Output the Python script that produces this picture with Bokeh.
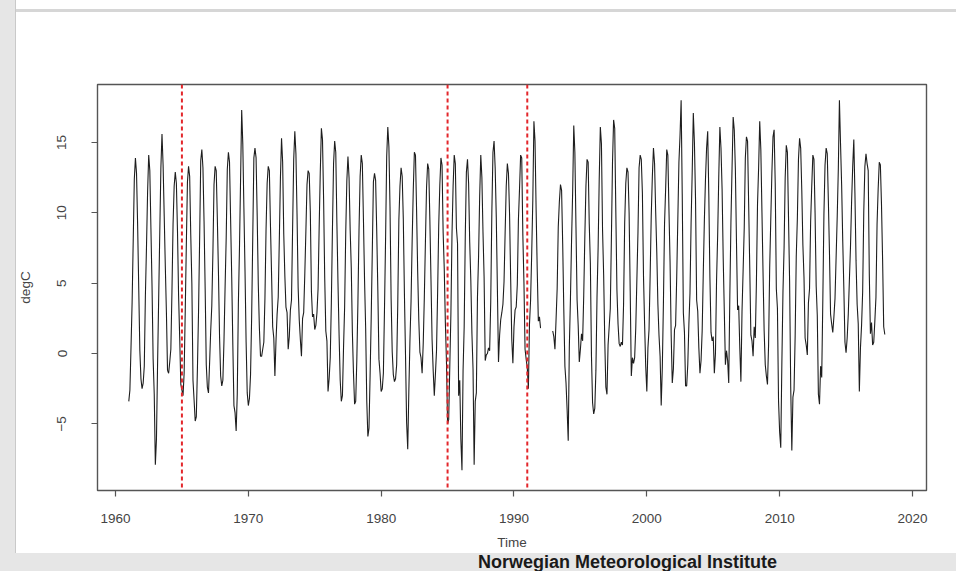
import numpy as np
from bokeh.plotting import figure
from bokeh.layouts import column
from bokeh.models import Range1d, FixedTicker, Span, Div
from bokeh.embed import file_html
from bokeh.resources import INLINE

nan = float("nan")

# ---------------- data (monthly mean temperature, degC) ----------------
start_year = 1961
temps_1961_1970 = [
    [-3.4, -2.6, 0.4, 3.6, 8.0, 12.4, 13.9, 12.8, 9.1, 4.6, 0.2, -1.8],
    [-2.5, -2.1, -0.9, 4.1, 7.6, 11.5, 14.1, 13.0, 8.9, 4.8, -0.4, -2.9],
    [-7.9, -6.1, -0.8, 3.9, 8.6, 13.2, 15.6, 13.4, 9.8, 6.2, 2.9, -1.2],
    [-1.4, -0.6, 0.3, 4.4, 9.2, 11.9, 12.9, 12.1, 8.7, 4.1, 1.1, -2.2],
    [-2.6, -3.0, -1.4, 3.0, 7.8, 12.2, 13.3, 12.6, 8.4, 4.9, -1.9, -3.3],
    [-4.8, -4.5, -1.1, 2.9, 8.1, 13.7, 14.5, 13.2, 9.4, 4.6, -0.8, -2.4],
    [-2.8, -0.7, 1.6, 3.4, 7.2, 12.0, 13.3, 13.0, 9.6, 5.8, 1.2, -1.6],
    [-2.3, -1.9, 0.9, 4.7, 8.2, 13.1, 14.3, 13.6, 9.5, 5.4, 0.6, -3.7],
    [-4.2, -5.5, -2.9, 3.5, 7.5, 12.4, 17.3, 14.9, 10.3, 5.9, 0.8, -2.8],
    [-3.7, -3.2, -1.5, 2.6, 8.3, 13.9, 14.6, 13.9, 9.8, 4.9, 1.8, -0.2],
]
temps_1971_1980 = [
    [-0.2, 0.3, 0.8, 3.9, 8.8, 12.1, 13.3, 13.0, 9.1, 5.6, 1.9, 1.1],
    [-1.6, 0.9, 2.8, 4.0, 8.1, 12.5, 15.3, 13.6, 8.5, 5.5, 3.3, 2.9],
    [0.3, 1.2, 3.1, 3.8, 8.9, 13.8, 15.8, 14.2, 9.9, 4.7, 2.4, 1.0],
    [-0.2, 2.5, 2.9, 5.6, 8.7, 12.0, 13.0, 12.8, 10.1, 4.4, 2.6, 2.8],
    [1.7, 2.0, 2.9, 4.6, 9.0, 12.9, 16.0, 15.2, 11.0, 5.4, 1.6, 0.9],
    [-2.7, -1.8, -0.3, 3.6, 8.9, 13.5, 15.1, 14.3, 9.3, 5.0, 1.3, -1.9],
    [-3.4, -3.0, 0.4, 3.3, 8.6, 12.3, 14.0, 12.5, 8.8, 6.1, 1.5, -1.4],
    [-3.6, -3.4, -0.5, 3.6, 8.8, 12.6, 14.1, 13.5, 9.5, 5.2, 1.8, -3.4],
    [-5.9, -5.3, -1.6, 2.5, 7.3, 12.2, 12.8, 12.3, 8.7, 4.5, -0.4, -1.4],
    [-2.7, -2.5, -1.4, 3.1, 8.2, 14.0, 16.1, 14.7, 10.4, 3.9, 0.1, -1.5],
]
temps_1981_1990 = [
    [-2.0, -1.8, -0.8, 3.5, 9.5, 11.9, 13.2, 12.6, 9.6, 4.3, -0.1, -4.9],
    [-6.8, -2.7, 0.9, 3.7, 8.0, 11.6, 14.3, 14.1, 10.2, 5.8, 2.4, 0.1],
    [-0.3, -1.4, 0.7, 4.0, 8.0, 11.8, 13.5, 13.1, 9.5, 5.3, 1.0, -1.2],
    [-3.0, -1.5, 0.2, 4.3, 9.1, 12.0, 13.9, 13.4, 8.6, 6.0, 2.2, -0.6],
    [-5.0, -4.7, -0.9, 2.8, 8.5, 11.9, 14.1, 13.5, 8.9, 7.8, -3.0, -1.9],
    [-6.1, -8.3, -1.2, 1.9, 8.4, 12.9, 13.8, 12.1, 7.9, 5.2, 1.4, -1.1],
    [-7.9, -3.4, -2.8, 4.0, 6.9, 11.2, 14.1, 12.5, 8.6, 5.4, -0.5, -0.1],
    [0.0, 0.4, 0.2, 3.7, 10.1, 14.3, 15.1, 13.2, 9.7, 4.6, -0.6, 1.3],
    [2.4, 2.9, 3.5, 5.1, 8.6, 11.9, 13.5, 12.8, 9.9, 5.3, 1.0, -0.7],
    [1.9, 3.1, 3.3, 4.9, 9.5, 11.7, 14.1, 13.9, 8.4, 5.0, 0.3, -0.4],
]
temps_1991_2000 = [
    [-1.0, -2.5, 2.1, 3.8, 7.1, 10.9, 16.5, 15.1, 10.2, 5.9, 2.3, 2.6],
    [1.8, nan, nan, nan, nan, nan, nan, nan, nan, nan, nan, 1.6],
    [1.2, 0.3, 2.4, 4.6, 9.0, 10.8, 12.0, 11.6, 7.8, 3.1, -0.9, -2.1],
    [-4.0, -6.2, 0.5, 3.9, 8.0, 11.5, 16.2, 14.3, 9.0, 3.8, 2.0, -0.6],
    [0.3, 1.4, 0.9, 4.1, 8.3, 11.9, 13.8, 13.6, 9.2, 6.4, -0.2, -3.5],
    [-4.3, -3.9, -1.2, 4.0, 7.5, 12.4, 16.1, 14.9, 8.8, 5.6, 0.9, -2.4],
    [-2.9, 0.6, 1.9, 3.2, 8.2, 13.6, 16.6, 16.0, 10.1, 4.5, 2.1, 0.7],
    [0.5, 0.8, 0.6, 3.5, 9.3, 12.1, 13.2, 12.9, 10.0, 4.4, -1.6, -0.3],
    [-0.7, -0.3, 1.8, 5.2, 8.6, 13.2, 14.1, 13.8, 11.4, 5.5, 2.1, -0.9],
    [-2.7, 0.4, 1.7, 5.5, 9.8, 12.6, 14.6, 13.5, 10.1, 7.2, 3.5, 1.3],
]
temps_2001_2010 = [
    [-0.2, -3.7, -1.0, 3.6, 9.2, 11.7, 14.5, 14.1, 10.2, 6.5, 1.3, -2.1],
    [-1.1, 1.7, 2.0, 5.4, 9.5, 13.6, 15.5, 18.0, 11.3, 2.9, 1.5, -2.3],
    [-2.3, -0.8, 2.1, 4.3, 9.3, 12.9, 17.1, 15.0, 11.0, 3.8, 3.0, 0.4],
    [-1.4, -0.5, 1.6, 5.7, 9.5, 12.4, 14.6, 15.8, 11.3, 5.4, 1.5, 0.9],
    [1.2, -1.4, 0.0, 5.2, 8.4, 12.6, 16.1, 14.6, 11.7, 6.8, 3.0, -0.8],
    [0.2, -0.5, -2.1, 4.1, 9.4, 13.2, 16.8, 15.9, 13.1, 7.9, 3.1, 3.4],
    [0.4, -2.0, 3.0, 5.9, 8.9, 13.9, 15.4, 15.1, 10.6, 6.1, 1.3, 0.9],
    [-0.2, 1.9, 1.1, 5.0, 10.6, 13.2, 16.5, 14.5, 10.1, 5.7, 1.6, -0.8],
    [-1.6, -2.2, 0.6, 6.1, 9.6, 12.9, 15.4, 15.9, 12.1, 4.6, 3.2, -3.4],
    [-5.6, -6.7, -0.7, 4.4, 7.5, 12.5, 14.8, 14.3, 9.7, 5.1, -2.4, -6.9],
]
temps_2011_2017 = [
    [-3.1, -2.6, 1.2, 6.9, 9.6, 13.8, 15.3, 14.6, 11.6, 7.7, 5.4, 1.1],
    [0.6, -0.1, 3.6, 4.6, 9.4, 11.9, 14.1, 13.8, 10.0, 4.8, 2.7, -2.9],
    [-3.6, -0.9, -1.7, 3.8, 9.9, 13.4, 14.6, 14.2, 10.9, 7.2, 2.8, 2.1],
    [1.5, 2.6, 3.9, 6.8, 9.7, 13.1, 18.0, 14.9, 12.0, 8.0, 4.6, 0.8],
    [0.05, 1.1, 2.8, 5.2, 7.6, 10.8, 13.3, 15.2, 11.4, 6.6, 3.5, 2.1],
    [-2.7, 0.4, 2.0, 4.4, 10.1, 13.3, 14.2, 13.5, 13.0, 5.6, 1.4, 2.2],
    [0.6, 0.8, 2.3, 4.0, 9.2, 11.7, 13.6, 13.4, 10.6, 6.7, 1.9, 1.35],
]
break_years = [1965, 1985, 1991]
x_ticks = [1960, 1970, 1980, 1990, 2000, 2010, 2020]
y_ticks = [-5, 0, 5, 10, 15]
x_title = "Time"
y_title = "degC"
footer_text = "Norwegian Meteorological Institute"

rows = (temps_1961_1970 + temps_1971_1980 + temps_1981_1990
        + temps_1991_2000 + temps_2001_2010 + temps_2011_2017)
values = np.array([v for row in rows for v in row], dtype=float)
times = start_year + np.arange(len(values)) / 12.0


# ---------------- page-pixel helpers (layout only) ----------------
def xd(px):
    return 1960 + (px - 115) / 13.283


def yd(py):
    return (353 - py) / 14.07


PAGE_W = 956
FOOT_H = 18
FIG_H = 571 - FOOT_H

slide_bg = ("linear-gradient(to right, #e6e6e6 0px, #e6e6e6 15px, #c9c9c9 15px, "
            "#c9c9c9 16px, rgba(255,255,255,0) 16px), "
            "linear-gradient(to bottom, rgba(255,255,255,0) 0px, rgba(255,255,255,0) 9px, "
            "#d6d6d6 9px, #d6d6d6 12px, rgba(255,255,255,0) 12px), #ffffff")

p = figure(
    width=PAGE_W, height=FIG_H,
    output_backend="svg", toolbar_location=None,
    x_range=Range1d(xd(97), xd(926)),
    y_range=Range1d(yd(490), yd(84)),
    min_border_left=97, min_border_right=PAGE_W - 926,
    min_border_top=84, min_border_bottom=FIG_H - 490,
    styles={"background": slide_bg},
)
p.background_fill_color = "white"
p.border_fill_color = None
p.outline_line_color = "#555555"
p.outline_line_width = 1.4
p.grid.visible = False

label_font = "Liberation Sans"
for ax in (p.xaxis[0], p.yaxis[0]):
    ax.axis_line_color = None
    ax.major_tick_in = 0
    ax.major_tick_out = 6
    ax.major_tick_line_color = "#555555"
    ax.major_tick_line_width = 1.2
    ax.minor_tick_line_color = None
    ax.major_label_text_font = label_font
    ax.major_label_text_font_size = "13.5px"
    ax.major_label_text_color = "#444444"
    ax.axis_label_text_font = label_font
    ax.axis_label_text_font_size = "13.5px"
    ax.axis_label_text_font_style = "normal"
    ax.axis_label_text_color = "#444444"

p.xaxis.ticker = FixedTicker(ticks=x_ticks)
p.yaxis.ticker = FixedTicker(ticks=y_ticks)
p.xaxis.axis_label = x_title
p.yaxis.axis_label = y_title
p.xaxis.major_label_standoff = 17
p.xaxis.axis_label_standoff = 9
p.yaxis.major_label_standoff = 25
p.yaxis.axis_label_standoff = 22
p.yaxis.major_label_orientation = "vertical"

p.line(times, values, line_color="#1e1e1e", line_width=1.1)

for yr in break_years:
    p.add_layout(Span(location=yr, dimension="height", line_color="#e3262b",
                      line_dash="4 3", line_width=2))

footer = Div(
    text=(f'<div style="margin-left:478px; font-family:\'Liberation Sans\'; '
          f'font-weight:bold; font-size:18px; line-height:{FOOT_H}px; color:#1a1a1a; '
          f'white-space:nowrap;">{footer_text}</div>'),
    width=PAGE_W, height=FOOT_H,
    styles={"background": "#e6e6e6", "margin": "0px", "padding": "0px",
            "overflow": "visible"},
)

layout = column(p, footer, spacing=0)
open("out.html", "w").write(file_html(layout, INLINE))
